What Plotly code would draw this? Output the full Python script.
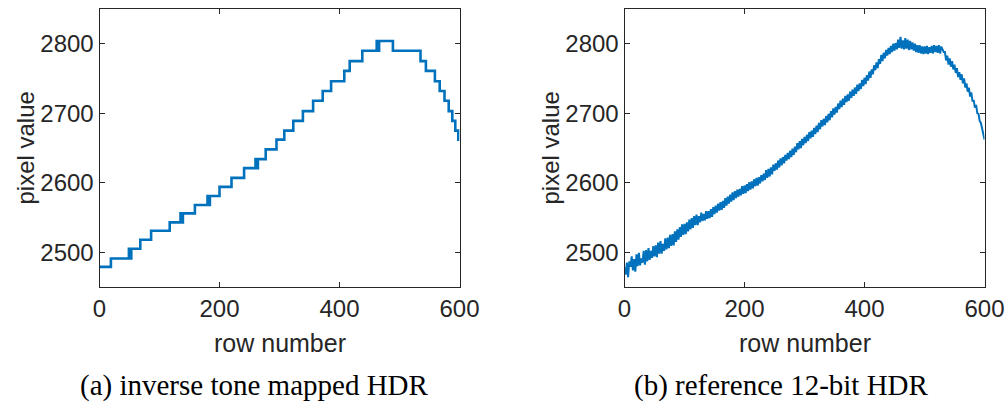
import plotly.graph_objects as go

# ---------------- data ----------------
# (a) inverse tone mapped HDR: step levels (hv steps)
tm_rows = [0, 19, 49, 51, 53, 68, 86, 117, 135, 137, 139, 159, 180, 182, 184, 200, 220,
           241, 260, 262, 264, 277, 295, 308, 323, 339, 356, 372, 386, 408, 417, 438,
           462, 464, 466, 468, 489, 535, 544, 559, 567, 575, 582, 588, 593, 598, 600]
tm_vals = [2479, 2491, 2505, 2491, 2505, 2518, 2531, 2543, 2556, 2543, 2556, 2568, 2581, 2568, 2581, 2594, 2607,
           2621, 2634, 2621, 2634, 2648, 2662, 2675, 2689, 2703, 2718, 2732, 2746, 2761, 2775, 2790,
           2804, 2790, 2804, 2804, 2790, 2775, 2761, 2746, 2732, 2718, 2703, 2689, 2675, 2662, 2662]

# (b) reference 12-bit HDR: one value every 2 rows
ref_rows = list(range(0, 601, 2))
ref_vals = [
    2478, 2468, 2485, 2464, 2487, 2479, 2494, 2474, 2490, 2472,
    2497, 2480, 2499, 2481, 2491, 2485, 2502, 2482, 2503, 2487,
    2506, 2489, 2502, 2492, 2509, 2494, 2510, 2493, 2514, 2498,
    2516, 2498, 2512, 2502, 2520, 2504, 2521, 2506, 2525, 2509,
    2526, 2510, 2530, 2515, 2533, 2518, 2536, 2522, 2540, 2525,
    2541, 2526, 2543, 2530, 2547, 2533, 2549, 2535, 2552, 2539,
    2554, 2539, 2552, 2543, 2557, 2545, 2555, 2546, 2559, 2548,
    2559, 2549, 2562, 2551, 2565, 2555, 2567, 2557, 2570, 2560,
    2572, 2561, 2574, 2564, 2578, 2567, 2580, 2570, 2583, 2573,
    2586, 2575, 2588, 2578, 2590, 2580, 2591, 2582, 2595, 2584,
    2596, 2585, 2598, 2588, 2601, 2590, 2602, 2592, 2605, 2595,
    2607, 2596, 2608, 2599, 2611, 2602, 2613, 2604, 2618, 2607,
    2620, 2609, 2622, 2612, 2626, 2617, 2628, 2619, 2632, 2622,
    2635, 2625, 2637, 2628, 2640, 2632, 2643, 2634, 2646, 2637,
    2649, 2640, 2652, 2644, 2657, 2648, 2660, 2650, 2663, 2654,
    2666, 2657, 2669, 2660, 2673, 2664, 2675, 2666, 2679, 2670,
    2682, 2673, 2686, 2677, 2690, 2681, 2692, 2683, 2696, 2687,
    2699, 2690, 2703, 2694, 2707, 2698, 2709, 2701, 2714, 2706,
    2718, 2709, 2721, 2712, 2725, 2716, 2727, 2718, 2731, 2722,
    2734, 2725, 2737, 2728, 2741, 2732, 2743, 2735, 2748, 2739,
    2751, 2742, 2755, 2747, 2760, 2751, 2763, 2756, 2769, 2762,
    2773, 2765, 2778, 2771, 2784, 2775, 2787, 2779, 2791, 2783,
    2794, 2785, 2797, 2788, 2800, 2790, 2801, 2792, 2806, 2794,
    2810, 2793, 2805, 2792, 2808, 2793, 2806, 2791, 2804, 2792,
    2802, 2790, 2800, 2788, 2798, 2787, 2798, 2786, 2796, 2785,
    2796, 2786, 2797, 2785, 2795, 2787, 2797, 2786, 2798, 2788,
    2797, 2787, 2798, 2786, 2796, 2793, 2788, 2788, 2776, 2783,
    2770, 2779, 2767, 2775, 2763, 2770, 2758, 2765, 2752, 2759,
    2748, 2756, 2743, 2750, 2737, 2743, 2731, 2737, 2724, 2730,
    2717, 2719, 2708, 2712, 2700, 2699, 2689, 2686, 2677, 2671,
    2662,
]

x_ticks = [0, 200, 400, 600]
y_ticks = [2500, 2600, 2700, 2800]
x_range = [0, 600]
y_range = [2450, 2850]
captions = ["(a) inverse tone mapped HDR", "(b) reference 12-bit HDR"]
x_title = "row number"
y_title = "pixel value"

# ---------------- figure ----------------
W, H = 1007, 406
LINE = "#0072BD"
AX = "#262626"

fig = go.Figure()
fig.add_trace(go.Scatter(x=tm_rows, y=tm_vals, mode="lines", line=dict(color=LINE, width=2.6, shape="hv"),
                         xaxis="x", yaxis="y", showlegend=False))
fig.add_trace(go.Scatter(x=ref_rows, y=ref_vals, mode="lines", line=dict(color=LINE, width=2.0),
                         xaxis="x2", yaxis="y2", showlegend=False))

def px(x):
    return x / W

def py(y):
    return 1 - y / H

plots = [(99.5, 459.5), (624.5, 984.5)]
top, bottom = 9, 287

common_x = dict(range=x_range, tickvals=x_ticks, ticks="inside", ticklen=5, tickcolor=AX, tickwidth=1,
                showline=True, linecolor=AX, linewidth=1, mirror="ticks", showgrid=False, zeroline=False,
                automargin=False,
                tickfont=dict(family="Liberation Sans, Arial", size=24, color=AX))
common_y = dict(range=y_range, tickvals=y_ticks, ticks="inside", ticklen=5, tickcolor=AX, tickwidth=1,
                showline=True, linecolor=AX, linewidth=1, mirror="ticks", showgrid=False, zeroline=False,
                automargin=False,
                tickfont=dict(family="Liberation Sans, Arial", size=24, color=AX))

fig.update_layout(
    width=W, height=H, autosize=False,
    margin=dict(l=0, r=0, t=0, b=0, pad=0),
    paper_bgcolor="white", plot_bgcolor="white",
    xaxis=dict(domain=[px(plots[0][0]), px(plots[0][1])], anchor="y", **common_x),
    yaxis=dict(domain=[py(bottom), py(top)], anchor="x", **common_y),
    xaxis2=dict(domain=[px(plots[1][0]), px(plots[1][1])], anchor="y2", **common_x),
    yaxis2=dict(domain=[py(bottom), py(top)], anchor="x2", **common_y),
)

annots = []
for i, (x0, x1) in enumerate(plots):
    cx = (x0 + x1) / 2
    annots.append(dict(text=x_title, x=px(cx), y=py(343), xref="paper", yref="paper", showarrow=False,
                       xanchor="center", yanchor="middle",
                       font=dict(family="Liberation Sans, Arial", size=25, color=AX)))
    annots.append(dict(text=y_title, x=px(x0 - 75), y=py((top + bottom) / 2), xref="paper", yref="paper",
                       showarrow=False, textangle=-90, xanchor="center", yanchor="middle",
                       font=dict(family="Liberation Sans, Arial", size=24, color=AX)))
    annots.append(dict(text=captions[i], x=px([254, 781][i]), y=py(385), xref="paper", yref="paper",
                       showarrow=False, xanchor="center", yanchor="middle",
                       font=dict(family="Liberation Serif, Times New Roman", size=29, color="black")))
fig.update_layout(annotations=annots)

fig.write_html("out.html", config={"displayModeBar": False},
               post_script="document.body.style.margin='0';document.body.style.padding='0';")
